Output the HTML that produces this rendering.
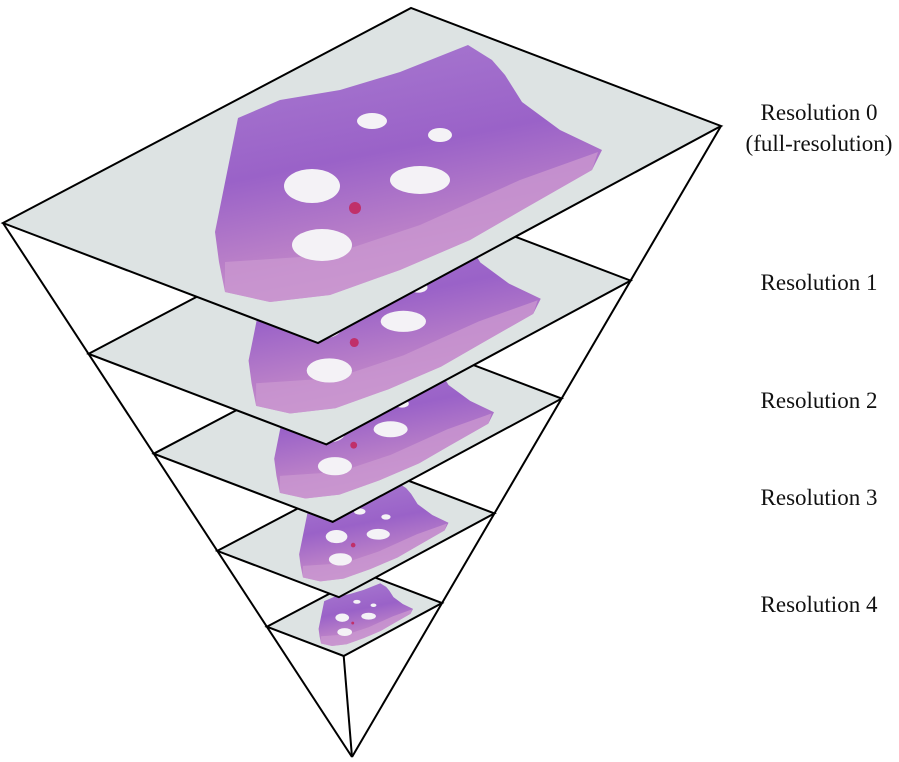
<!DOCTYPE html>
<html><head><meta charset="utf-8"><style>
html,body{margin:0;padding:0;background:#fff;}
svg{display:block;}
text{font-family:"Liberation Serif",serif;font-size:23px;fill:#111;}
</style></head><body>
<svg id="chart" width="899" height="762" viewBox="0 0 899 762">
<defs>
<linearGradient id="tg" x1="0" y1="0" x2="0.3" y2="1">
<stop offset="0" stop-color="#a97bd0"/>
<stop offset="0.5" stop-color="#9a62c8"/>
<stop offset="0.8" stop-color="#ba80c8"/>
<stop offset="1" stop-color="#cc9ad0"/>
</linearGradient>
<g id="tissue">
<polygon points="215,232 238,118 280,100 340,90 400,72 468,45 492,60 505,75 522,102 560,130 602,150 592,170 522,210 470,240 400,270 330,295 270,302 225,292 219,262" fill="url(#tg)"/>
<polygon points="225,262 330,255 420,225 520,180 598,152 592,170 522,210 470,240 400,270 330,295 270,302 225,292" fill="#c996d0" opacity="0.8"/>
<ellipse cx="312" cy="186" rx="28" ry="17" fill="#f4f2f6"/>
<ellipse cx="322" cy="245" rx="30" ry="16" fill="#f4f2f6"/>
<ellipse cx="420" cy="180" rx="30" ry="14" fill="#f4f2f6"/>
<ellipse cx="372" cy="121" rx="15" ry="8" fill="#f4f2f6"/>
<ellipse cx="440" cy="135" rx="12" ry="7" fill="#f4f2f6"/>
<circle cx="355" cy="208" r="6" fill="#c0306a"/>
</g>
</defs>
<g id="edges"></g>
<g id="planes"></g>
<g id="labels"></g>
</svg>
<script>
const levels = ["Resolution 0","Resolution 1","Resolution 2","Resolution 3","Resolution 4"];
const depthFraction = [0, 0.245, 0.432, 0.614, 0.756];
const labelY = [112, 282, 400, 497, 604];
const NS="http://www.w3.org/2000/svg";
const apex=[352,757];
const top0=[[3,223],[411,8],[721,126],[318,343]];
const edges=document.getElementById('edges');
[0,2,3].forEach(i=>{
  const l=document.createElementNS(NS,'line');
  
  
  l.setAttribute('x1',top0[i][0]);l.setAttribute('y1',top0[i][1]);
  l.setAttribute('x2',apex[0]);l.setAttribute('y2',apex[1]);
  l.setAttribute('stroke','#000');l.setAttribute('stroke-width','2');
  edges.appendChild(l);
});
const planes=document.getElementById('planes');
for(let k=levels.length-1;k>=0;k--){
  const s=1-depthFraction[k];
  const g=document.createElementNS(NS,'g');
  
  
  g.setAttribute('transform',`translate(${apex[0]},${apex[1]}) scale(${s}) translate(${-apex[0]},${-apex[1]})`);
  const pts=top0.map(p=>p.join(',')).join(' ');
  const bg=document.createElementNS(NS,'polygon');
  bg.setAttribute('points',pts);bg.setAttribute('fill','#dde3e3');
  g.appendChild(bg);
  const u=document.createElementNS(NS,'use');
  u.setAttribute('href','#tissue');
  
  
  g.appendChild(u);
  const ol=document.createElementNS(NS,'polygon');
  ol.setAttribute('points',pts);ol.setAttribute('fill','none');
  ol.setAttribute('stroke','#000');ol.setAttribute('stroke-width',2/s);
  g.appendChild(ol);
  planes.appendChild(g);
}
const lab=document.getElementById('labels');
levels.forEach((t,i)=>{
  const tx=document.createElementNS(NS,'text');
  
  
  tx.setAttribute('x',819);tx.setAttribute('y',labelY[i]+8);
  tx.setAttribute('text-anchor','middle');
  tx.textContent=t;lab.appendChild(tx);
});
const sub=document.createElementNS(NS,'text');


sub.setAttribute('x',819);sub.setAttribute('y',151);
sub.setAttribute('text-anchor','middle');
sub.textContent='(full-resolution)';lab.appendChild(sub);
</script>
</body></html>
